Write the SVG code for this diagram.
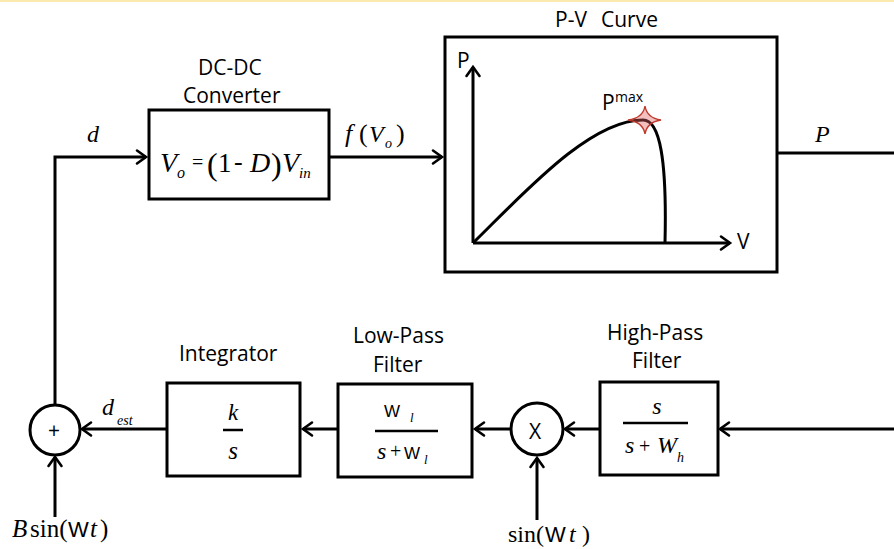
<svg xmlns="http://www.w3.org/2000/svg" width="894" height="549" viewBox="0 0 894 549">
<defs>
<style>
.bx{fill:#fff;stroke:#000;stroke-width:3}
.ln{fill:none;stroke:#000;stroke-width:3}
.ar{marker-end:url(#ah)}
.lb{font-family:"Open Sans","Liberation Sans",sans-serif;font-size:21px;fill:#000}
.m{font-family:"Liberation Serif","DejaVu Serif",serif;fill:#000}
.i{font-style:italic}
.sw{font-family:"Liberation Sans",Arial,sans-serif}
.fr{stroke:#000;stroke-width:2.5}
</style>
<marker id="ah" markerUnits="userSpaceOnUse" markerWidth="20" markerHeight="20" viewBox="-12 -10 14 20" refX="0" refY="0" orient="auto" overflow="visible">
<path d="M-9,-6.5 L0,0 L-9,6.5" fill="none" stroke="#000" stroke-width="2.6" stroke-linecap="round" stroke-linejoin="miter"/>
</marker>
</defs>
<rect x="0" y="0" width="894" height="549" fill="#fff"/>
<rect x="0" y="0" width="894" height="2" fill="#fbe9ae"/>

<g id="connectors">
<path class="ln ar" d="M55,405 L55,157 L146,157"/>
<path class="ln ar" d="M329,157 L442,157"/>
<path class="ln" d="M777,153 L894,153"/>
<path class="ln ar" d="M894,429 L720,429"/>
<path class="ln ar" d="M600,429 L565,429"/>
<path class="ln ar" d="M537,520 L537,458"/>
<path class="ln ar" d="M511,429 L475,429"/>
<path class="ln ar" d="M338,429 L303,429"/>
<path class="ln ar" d="M167,429 L82,429"/>
<path class="ln ar" d="M55,517 L55,457"/>
</g>

<g id="label-d"><text class="m i" x="87" y="142" font-size="24">d</text></g>
<g id="label-fVo">
<text class="m" y="142" font-size="24"><tspan class="i" x="345" font-size="26">f</tspan><tspan x="359" font-size="26">(</tspan><tspan class="i" x="369">V</tspan><tspan class="i" x="385" y="148" font-size="14">o</tspan><tspan x="396" y="142" font-size="26">)</tspan></text>
</g>
<g id="label-P"><text class="m i" x="815" y="142" font-size="24">P</text></g>

<g id="dcdc">
<text class="lb" x="198" y="75">DC-DC</text>
<text class="lb" x="183" y="103">Converter</text>
<rect class="bx" x="149" y="110" width="180" height="89"/>
<text class="m" y="172" font-size="28"><tspan class="i" x="160">V</tspan><tspan class="i" x="177" y="178" font-size="16">o</tspan><tspan x="192" y="169" font-size="20">=</tspan><tspan x="207" y="175" font-size="32">(</tspan><tspan x="218" y="172" font-size="27">1</tspan><tspan x="234" y="170" font-size="26">-</tspan><tspan class="i" x="250" y="172">D</tspan><tspan x="271" y="175" font-size="32">)</tspan><tspan class="i" x="282" y="172">V</tspan><tspan class="i" x="299" y="178" font-size="15">in</tspan></text>
</g>

<g id="pv-curve">
<text class="lb" y="27"><tspan x="555">P-V</tspan><tspan x="601">Curve</tspan></text>
<rect class="bx" x="445" y="37" width="332" height="235"/>
<path class="ln ar" d="M473,243 L473,67"/>
<path class="ln ar" d="M473,243 L730,243"/>
<text class="lb" x="457" y="68" font-size="20">P</text>
<text class="lb" x="737" y="249" font-size="20">V</text>
<path class="ln" d="M473,243 C525,192 590,120 643,120 C660,120 667,160 665,243"/>
<path d="M645,106 Q647,118 661,120 Q647,122 645,134 Q643,122 628,120 Q643,118 645,106 Z" fill="#e06060" fill-opacity="0.4" stroke="#c0392b" stroke-width="1.4"/>
<text class="lb" x="602" y="110" font-size="21">P<tspan x="615" y="102" font-size="14">max</tspan></text>
</g>

<g id="hpf">
<text class="lb" x="607" y="340">High-Pass</text>
<text class="lb" x="632" y="368">Filter</text>
<rect class="bx" x="600" y="382" width="118" height="93"/>
<text class="m i" x="657" y="414" font-size="24" text-anchor="middle">s</text>
<line class="fr" x1="623" y1="423" x2="688" y2="423"/>
<text class="m" y="453" font-size="24"><tspan class="i" x="625">s</tspan><tspan x="639" font-size="20">+</tspan><tspan class="i" x="657">W</tspan><tspan class="i" x="677" y="462" font-size="14">h</tspan></text>
</g>

<g id="multiplier">
<circle cx="537" cy="429" r="26" fill="#fff" stroke="#000" stroke-width="3"/>
<text class="lb" x="529" y="439" font-size="20">X</text>
</g>
<g id="label-sin"><text class="m" y="542" font-size="24"><tspan x="508">sin(</tspan><tspan class="sw" x="545" font-size="22">W</tspan><tspan class="i" x="569">t</tspan><tspan x="582">)</tspan></text></g>

<g id="lpf">
<text class="lb" x="353" y="343">Low-Pass</text>
<text class="lb" x="373" y="372">Filter</text>
<rect class="bx" x="338" y="384" width="134" height="93"/>
<text class="sw" x="384" y="417" font-size="17">W</text>
<text class="m i" x="410" y="422" font-size="13">l</text>
<line class="fr" x1="375" y1="431" x2="438" y2="431"/>
<text class="m i" x="377" y="459" font-size="24">s</text>
<text class="m" x="390" y="458" font-size="20">+</text>
<text class="sw" x="404" y="459" font-size="17">W</text>
<text class="m i" x="424" y="464" font-size="13">l</text>
</g>

<g id="integrator">
<text class="lb" x="179" y="361">Integrator</text>
<rect class="bx" x="167" y="383" width="133" height="93"/>
<text class="m i" x="233" y="420" font-size="23" text-anchor="middle">k</text>
<line class="fr" x1="223" y1="430" x2="243" y2="430"/>
<text class="m i" x="233" y="459" font-size="25" text-anchor="middle">s</text>
</g>

<g id="label-dest"><text class="m i" y="415" font-size="24"><tspan x="102">d</tspan><tspan x="117" y="425" font-size="14">est</tspan></text></g>

<g id="summer">
<circle cx="55" cy="430" r="25" fill="#fff" stroke="#000" stroke-width="3"/>
<text class="lb" x="48" y="438" font-size="18">+</text>
</g>
<g id="label-bsin"><text class="m" y="537" font-size="25"><tspan class="i" x="12">B</tspan><tspan x="30">sin(</tspan><tspan class="sw" x="68" font-size="22">W</tspan><tspan class="i" x="90">t</tspan><tspan x="100">)</tspan></text></g>
</svg>
